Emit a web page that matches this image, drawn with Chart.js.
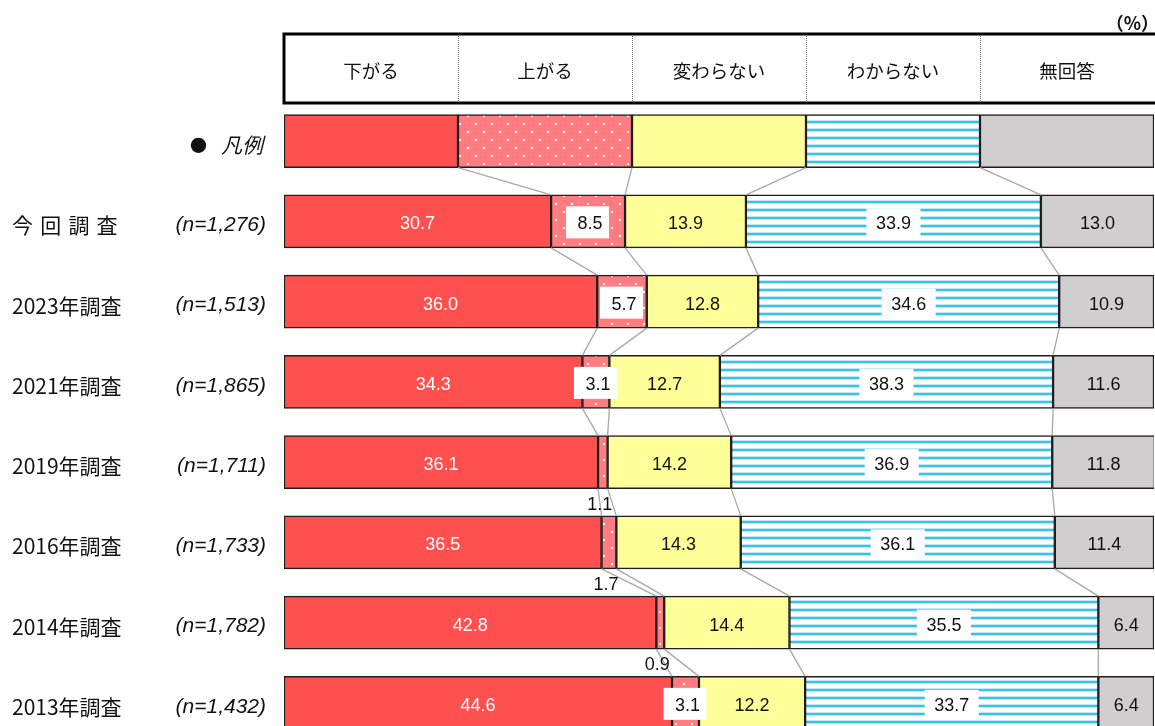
<!DOCTYPE html>
<html>
<head>
<meta charset="utf-8">
<script src="https://cdn.jsdelivr.net/npm/chart.js@4"></script>
<style>
html,body{margin:0;padding:0;background:#fff;overflow:hidden;}
#wrap{width:1155px;height:726px;overflow:hidden;}
canvas{display:block;}
</style>
</head>
<body>
<div id="wrap"><canvas id="c" width="1155" height="743"></canvas></div>
<script>
// ---- data ----
const legendLabel = '● 凡例';
const categories = ['今 回 調 査', '2023年調査', '2021年調査', '2019年調査', '2016年調査', '2014年調査', '2013年調査'];
const sampleSizes = ['(n=1,276)', '(n=1,513)', '(n=1,865)', '(n=1,711)', '(n=1,733)', '(n=1,782)', '(n=1,432)'];
const seriesNames = ['下がる', '上がる', '変わらない', 'わからない', '無回答'];
const down     = [30.7, 36.0, 34.3, 36.1, 36.5, 42.8, 44.6];
const up       = [8.5, 5.7, 3.1, 1.1, 1.7, 0.9, 3.1];
const same     = [13.9, 12.8, 12.7, 14.2, 14.3, 14.4, 12.2];
const unknown  = [33.9, 34.6, 38.3, 36.9, 36.1, 35.5, 33.7];
const noAnswer = [13.0, 10.9, 11.6, 11.8, 11.4, 6.4, 6.4];
const seriesValues = [down, up, same, unknown, noAnswer];

// ---- patterns ----
function dotPattern() {
  const c = document.createElement('canvas'); c.width = 16; c.height = 16;
  const g = c.getContext('2d');
  g.fillStyle = '#FF7C80'; g.fillRect(0, 0, 16, 16);
  g.fillStyle = '#ffffff';
  g.fillRect(3, 3, 2, 2); g.fillRect(11, 11, 2, 2);
  return g.createPattern(c, 'repeat');
}
function stripePattern() {
  const c = document.createElement('canvas'); c.width = 8; c.height = 8;
  const g = c.getContext('2d');
  g.fillStyle = '#ffffff'; g.fillRect(0, 0, 8, 8);
  g.fillStyle = '#BFE9FA'; g.fillRect(0, 0, 8, 1); g.fillRect(0, 3, 8, 1);
  g.fillStyle = '#35C4F2'; g.fillRect(0, 1, 8, 2);
  return g.createPattern(c, 'repeat');
}
const fills = ['#FF5050', dotPattern(), '#FFFF99', stripePattern(), '#D0CECE'];

const legendShare = 100 / seriesNames.length;
const yLabels = [legendLabel, ...categories];

const datasets = seriesNames.map((name, i) => ({
  label: name,
  data: [legendShare, ...seriesValues[i]],
  backgroundColor: fills[i],
  borderColor: '#1f1f1f',
  borderWidth: 1.5,
  borderSkipped: false,
  barThickness: 53
}));

const NUM_FONT = '"Liberation Sans", "Noto Sans CJK JP", sans-serif';
const JP_FONT = '"Noto Sans CJK JP", sans-serif';

const overlay = {
  id: 'overlay',
  afterDatasetsDraw(chart) {
    const ctx = chart.ctx;
    const metas = chart.data.datasets.map((d, i) => chart.getDatasetMeta(i));
    const nRows = chart.data.labels.length;
    // connector lines between boundaries
    ctx.save();
    ctx.strokeStyle = '#a8a8a8';
    ctx.lineWidth = 1.3;
    for (let r = 0; r < nRows - 1; r++) {
      for (let k = 0; k < metas.length - 1; k++) {
        const a = metas[k].data[r], b = metas[k].data[r + 1];
        ctx.beginPath();
        ctx.moveTo(a.x, a.y + a.height / 2);
        ctx.lineTo(b.x, b.y - b.height / 2);
        ctx.stroke();
      }
    }
    ctx.restore();

    // value labels
    ctx.save();
    ctx.font = '18px ' + NUM_FONT;
    ctx.textBaseline = 'middle';
    ctx.textAlign = 'center';
    for (let s = 0; s < metas.length; s++) {
      for (let r = 1; r < nRows; r++) {
        const el = metas[s].data[r];
        const v = chart.data.datasets[s].data[r];
        const txt = v.toFixed(1);
        const cx = (el.x + el.base) / 2;
        const cy = el.y;
        if (s === 0) {
          ctx.fillStyle = '#ffffff';
          ctx.fillText(txt, cx, cy + 3);
        } else if (s === 1) {
          if (v >= 2) {
            ctx.fillStyle = '#ffffff';
            ctx.fillRect(cx - 22, cy - 15, 43, 32);
            ctx.fillStyle = '#111';
            ctx.fillText(txt, cx + 2, cy + 3);
          } else {
            ctx.fillStyle = '#111';
            ctx.fillText(txt, cx - 3, cy + el.height / 2 + 16);
          }
        } else if (s === 3) {
          ctx.fillStyle = '#ffffff';
          ctx.fillRect(cx - 27, cy - 13, 54, 29);
          ctx.fillStyle = '#111';
          ctx.fillText(txt, cx, cy + 3);
        } else {
          ctx.fillStyle = '#111';
          ctx.fillText(txt, cx, cy + 3);
        }
      }
    }
    ctx.restore();
  },
  afterDraw(chart) {
    const ctx = chart.ctx;
    const xs = chart.scales.x, ys = chart.scales.y;
    const area = chart.chartArea;
    // header table
    const bottom = area.top + 2, top = bottom - 69;
    const left = xs.getPixelForValue(0), right = xs.getPixelForValue(100);
    ctx.save();
    ctx.font = '18.5px ' + JP_FONT;
    ctx.fillStyle = '#111';
    ctx.textAlign = 'center';
    ctx.textBaseline = 'middle';
    for (let i = 0; i < seriesNames.length; i++) {
      const x0 = xs.getPixelForValue(i * legendShare), x1 = xs.getPixelForValue((i + 1) * legendShare);
      ctx.fillText(seriesNames[i], (x0 + x1) / 2, (top + bottom) / 2 + 2);
      if (i > 0) {
        ctx.save();
        ctx.strokeStyle = '#777';
        ctx.lineWidth = 1;
        ctx.setLineDash([1, 1]);
        ctx.beginPath();
        ctx.moveTo(x0 + 0.5, top); ctx.lineTo(x0 + 0.5, bottom);
        ctx.stroke();
        ctx.restore();
      }
    }
    ctx.strokeStyle = '#000';
    ctx.lineWidth = 3;
    ctx.beginPath();
    ctx.moveTo(right + 5, top); ctx.lineTo(left, top); ctx.lineTo(left, bottom); ctx.lineTo(right + 5, bottom);
    ctx.stroke();
    // unit
    ctx.font = 'bold 18px ' + JP_FONT;
    ctx.textAlign = 'right';
    ctx.fillText('（%）', 1159, top - 11);

    // row labels
    const refFont = '21px ' + JP_FONT;
    ctx.font = refFont;
    const refW = ctx.measureText(categories[1]).width;
    for (let i = 0; i < chart.data.labels.length; i++) {
      const y = ys.getPixelForValue(i);
      if (i === 0) {
        const parts = legendLabel.split(' ');
        ctx.font = 'italic 21px ' + JP_FONT;
        ctx.textAlign = 'right';
        ctx.fillText(parts[1], 263, y + 4);
        ctx.font = '17px ' + JP_FONT;
        ctx.textAlign = 'left';
        ctx.fillText(parts[0], 190, y + 4);
        continue;
      }
      const name = categories[i - 1];
      ctx.font = refFont;
      ctx.textAlign = 'left';
      if (name.indexOf(' ') >= 0) {
        const chars = name.split(' ');
        const cw = ctx.measureText(chars[0]).width;
        const step = (refW - 4 - cw) / (chars.length - 1);
        chars.forEach((ch, j) => ctx.fillText(ch, 12 + j * step, y + 4));
      } else {
        ctx.fillText(name, 12, y + 4);
      }
      ctx.font = 'italic 21px ' + NUM_FONT;
      ctx.textAlign = 'right';
      ctx.fillText(sampleSizes[i - 1], 266, y + 4);
    }
    ctx.restore();
  }
};

new Chart(document.getElementById('c'), {
  type: 'bar',
  data: { labels: yLabels, datasets },
  options: {
    indexAxis: 'y',
    responsive: false,
    animation: false,
    layout: { padding: { left: 284, right: 1, top: 101, bottom: 0 } },
    scales: {
      x: { stacked: true, min: 0, max: 100, display: false },
      y: { stacked: true, display: false }
    },
    plugins: { legend: { display: false }, tooltip: { enabled: false } }
  },
  plugins: [overlay]
});
</script>
</body>
</html>
